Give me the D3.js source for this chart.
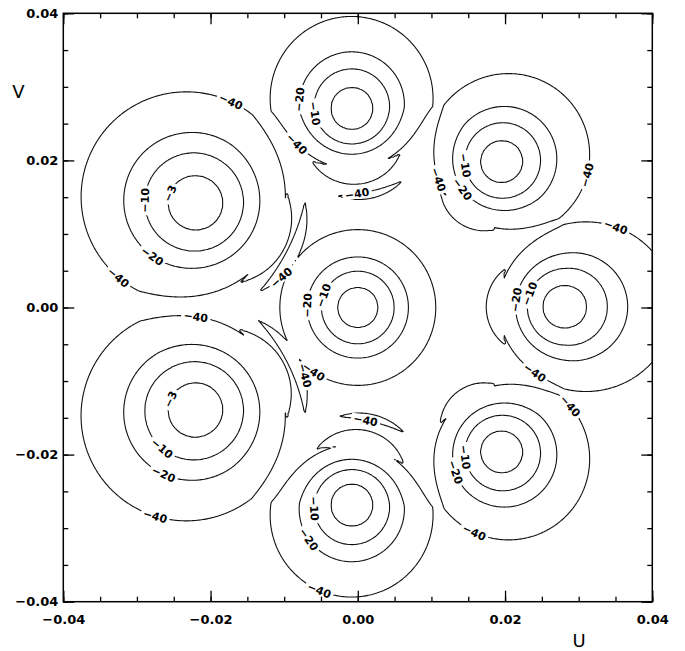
<!DOCTYPE html>
<html>
<head>
<meta charset="UTF-8">
<script src="https://cdn.jsdelivr.net/npm/d3@7"></script>
<style>
body { margin: 0; background: #fff; }
</style>
</head>
<body>
<script>
var Width = 685, Height = 651;
var plotL = 63.3, plotR = 652.3, plotT = 13.3, plotB = 601.7;

// beam centres (U, V), radius of the -3 contour, outward stretch and inward squeeze
var beamU   = [0.0000, -0.0008, 0.0195, 0.0280, 0.0195, -0.0008, -0.0220, -0.0220];
var beamV   = [0.0000,  0.0270, 0.0198, 0.0001, -0.0196, -0.0268, -0.0139, 0.0142];
var beamR3  = [0.00275, 0.00285, 0.00285, 0.00290, 0.00285, 0.00285, 0.00370, 0.00370];
var beamOut = [0, 0.033, 0.030, 0.065, 0.030, 0.033, 0.026, 0.026];
var beamIn  = [0, 0.0155, 0.009, 0.009, 0.009, 0.0155, 0.0059, 0.0059];

// level against radius (in units of the -3 radius)
var profileRho = [0, 1, 1.8, 2.5, 3.85, 6];
var profileDb  = [0, -3, -10, -20, -40, -70];

// coma side lobes on the inner side of the outer beams
var lobeBeam   = [1, 1, 5, 5, 3, 2, 4, 7, 7, 6, 6];
var lobeRho    = [3.15, 4.19, 3.15, 4.24, 3.28, 3.22, 3.22, 3.35, 4.00, 3.35, 4.00];
var lobeTurn   = [3, 11, -8, -12, 0, 10, -10, 6, 6, -4, -6];
var lobeSpread = [42, 23, 42, 23, 33, 30, 30, 33, 28, 33, 29];
var lobeWidth  = [0.45, 0.17, 0.45, 0.17, 0.36, 0.32, 0.32, 0.30, 0.22, 0.30, 0.22];

var levels = [-40, -20, -10, -3];

// contour labels: where they sit and which level they mark
var labelU = [-0.01709, -0.02850, -0.02524, -0.02795, -0.03271, -0.02211, -0.02524, -0.02646, -0.02646, -0.02768,
              -0.00785, -0.00554, -0.00826, -0.00011, 0.01456, 0.01416, 0.01063, 0.03127, 0.03453, 0.02122,
              0.02325, 0.02448, 0.02855, 0.01470, 0.01348, 0.01592, 0.00098, -0.00568, -0.00622, -0.00513,
              -0.00690, -0.00459, -0.01057, -0.00771, -0.00608];
var labelV = [0.02835, 0.01462, 0.01529, 0.00687, 0.00388, -0.00238, -0.01258, -0.01897, -0.02264, -0.02903,
              0.02821, 0.02645, 0.02237, 0.01570, 0.01924, 0.01598, 0.01720, 0.01787, 0.00945, 0.00102,
              0.00197, -0.00823, -0.01353, -0.02033, -0.02237, -0.03025, -0.01570, -0.02740, -0.03121, -0.03801,
              0.00034, 0.00170, 0.00428, -0.00945, -0.00891];
var labelLevel = [-40, -10, -3, -20, -40, -40, -3, -10, -20, -40,
                  -20, -10, -40, -40, -10, -20, -40, -40, -40, -20,
                  -10, -40, -40, -10, -20, -40, -40, -10, -20, -40,
                  -20, -10, -40, -40, -40];

var majorTicks = [-0.04, -0.02, 0, 0.02, 0.04];
var minorTicks = d3.range(-40, 41, 5).map(function(d){ return d / 1000; });

var svg = d3.select("body").append("svg")
    .attr("width", Width)
    .attr("height", Height);

var x = d3.scaleLinear().domain([-0.04, 0.04]).range([plotL, plotR]);
var y = d3.scaleLinear().domain([-0.04, 0.04]).range([plotB, plotT]);

var profile = d3.scaleLinear().domain(profileRho).range(profileDb).clamp(true);

function beamDb(i, u, v){
    var du = u - beamU[i], dv = v - beamV[i];
    var r = Math.sqrt(du * du + dv * dv);
    var rho = r / beamR3[i];
    var len = Math.sqrt(beamU[i] * beamU[i] + beamV[i] * beamV[i]);
    if(len === 0 || r === 0) return profile(rho);
    var c = (du * beamU[i] + dv * beamV[i]) / (r * len);
    var e;
    if(c >= 0){
        e = rho / (1 + beamOut[i] * rho * c);
    }else{
        e = rho * (1 - beamIn[i] * rho * rho * rho * c);
    }
    return profile(e);
}

function lobeDb(j, u, v){
    var i = lobeBeam[j];
    var du = u - beamU[i], dv = v - beamV[i];
    var rho = Math.sqrt(du * du + dv * dv) / beamR3[i];
    var inward = Math.atan2(-beamV[i], -beamU[i]) + lobeTurn[j] * Math.PI / 180;
    var a = Math.atan2(dv, du) - inward;
    a = Math.atan2(Math.sin(a), Math.cos(a));
    var t = a / (lobeSpread[j] * Math.PI / 180);
    if(Math.abs(t) >= 1) return -80;
    var w = lobeWidth[j] * (1 - t * t);
    var q = (rho - lobeRho[j]) / w;
    return -30 - 10 * q * q;
}

var n = 420;
var values = new Float64Array(n * n);
for(var j = 0; j < n; j++){
    var v = 0.04 - (j + 0.5) * 0.08 / n;
    for(var i = 0; i < n; i++){
        var u = -0.04 + (i + 0.5) * 0.08 / n;
        var best = -80;
        for(var b = 0; b < beamU.length; b++) best = Math.max(best, beamDb(b, u, v));
        for(var k = 0; k < lobeBeam.length; k++) best = Math.max(best, lobeDb(k, u, v));
        values[j * n + i] = best;
    }
}

var contours = d3.contours().size([n, n]).thresholds(levels)(values);
var gx = d3.scaleLinear().domain([0, n]).range([plotL, plotR]);
var gy = d3.scaleLinear().domain([0, n]).range([plotT, plotB]);
var path = d3.geoPath(d3.geoTransform({
    point: function(px, py){ this.stream.point(gx(px), gy(py)); }
}));

var defs = svg.append("defs");
defs.append("clipPath").attr("id", "plot")
    .append("rect").attr("x", plotL).attr("y", plotT)
    .attr("width", plotR - plotL).attr("height", plotB - plotT);
var mask = defs.append("mask").attr("id", "gaps")
    .attr("maskUnits", "userSpaceOnUse")
    .attr("x", 0).attr("y", 0).attr("width", Width).attr("height", Height);
mask.append("rect").attr("width", Width).attr("height", Height).attr("fill", "#fff");

svg.append("g")
    .attr("clip-path", "url(#plot)")
    .append("g")
    .attr("mask", "url(#gaps)")
    .selectAll("path")
    .data(contours)
    .enter()
    .append("path")
    .attr("d", path)
    .attr("fill", "none")
    .attr("stroke", "#111")
    .attr("stroke-width", 1.1)
    .attr("stroke-linejoin", "round");

// labels: snap to the nearest point of the level's contour, turn along it
function snap(level, px, py){
    var c = contours.filter(function(d){ return d.value === level; })[0];
    var bestD = Infinity, ring = null, idx = 0;
    c.coordinates.forEach(function(poly){
        poly.forEach(function(r){
            r.forEach(function(p, k){
                var dx = gx(p[0]) - px, dy = gy(p[1]) - py;
                var d = dx * dx + dy * dy;
                if(d < bestD){ bestD = d; ring = r; idx = k; }
            });
        });
    });
    var m = ring.length - 1;
    var a = ring[(idx - 2 + m) % m], b = ring[(idx + 2) % m];
    var ang = Math.atan2(gy(b[1]) - gy(a[1]), gx(b[0]) - gx(a[0])) * 180 / Math.PI;
    if(ang > 90) ang -= 180;
    if(ang <= -90) ang += 180;
    return {x: gx(ring[idx][0]), y: gy(ring[idx][1]), angle: ang};
}

var labelG = svg.append("g");
labelLevel.forEach(function(level, i){
    var s = snap(level, x(labelU[i]), y(labelV[i]));
    var t = labelG.append("text")
        .attr("transform", "translate(" + s.x + "," + s.y + ") rotate(" + s.angle + ")")
        .attr("text-anchor", "middle")
        .attr("dy", "0.36em")
        .style("font-family", "DejaVu Sans")
        .style("font-weight", "bold")
        .style("font-size", "11px")
        .text(d3.format("d")(level));
    var w = t.node().getComputedTextLength() + 5;
    mask.append("rect")
        .attr("transform", "translate(" + s.x + "," + s.y + ") rotate(" + s.angle + ")")
        .attr("x", -w / 2).attr("y", -5)
        .attr("width", w).attr("height", 10)
        .attr("fill", "#000");
});

// axes, ticks inward on all four sides
function ticks(g, axis){
    g.call(axis);
    g.select(".domain").remove();
    g.selectAll("line").attr("stroke", "#000").attr("stroke-width", 1.3);
    g.selectAll("text")
        .style("font-family", "DejaVu Sans")
        .style("font-weight", "bold")
        .style("font-size", "13px")
        .attr("fill", "#000");
}
var fmt = d3.format(".2f");
svg.append("g").attr("transform", "translate(0," + plotB + ")")
    .call(ticks, d3.axisBottom(x).tickValues(majorTicks).tickSize(-11).tickPadding(13).tickFormat(fmt));
svg.append("g").attr("transform", "translate(0," + plotB + ")")
    .call(ticks, d3.axisBottom(x).tickValues(minorTicks).tickSize(-5).tickFormat(""));
svg.append("g").attr("transform", "translate(0," + plotT + ")")
    .call(ticks, d3.axisTop(x).tickValues(majorTicks).tickSize(-11).tickFormat(""));
svg.append("g").attr("transform", "translate(0," + plotT + ")")
    .call(ticks, d3.axisTop(x).tickValues(minorTicks).tickSize(-5).tickFormat(""));
svg.append("g").attr("transform", "translate(" + plotL + ",0)")
    .call(ticks, d3.axisLeft(y).tickValues(majorTicks).tickSize(-11).tickPadding(5).tickFormat(fmt));
svg.append("g").attr("transform", "translate(" + plotL + ",0)")
    .call(ticks, d3.axisLeft(y).tickValues(minorTicks).tickSize(-5).tickFormat(""));
svg.append("g").attr("transform", "translate(" + plotR + ",0)")
    .call(ticks, d3.axisRight(y).tickValues(majorTicks).tickSize(-11).tickFormat(""));
svg.append("g").attr("transform", "translate(" + plotR + ",0)")
    .call(ticks, d3.axisRight(y).tickValues(minorTicks).tickSize(-5).tickFormat(""));

svg.append("rect")
    .attr("x", plotL).attr("y", plotT)
    .attr("width", plotR - plotL).attr("height", plotB - plotT)
    .attr("fill", "none").attr("stroke", "#000").attr("stroke-width", 1.5);

svg.append("text").attr("x", 18.5).attr("y", 98)
    .attr("text-anchor", "middle")
    .style("font-family", "DejaVu Sans").style("font-size", "18px")
    .text("V");
svg.append("text").attr("x", 579).attr("y", 647)
    .attr("text-anchor", "middle")
    .style("font-family", "DejaVu Sans").style("font-size", "18px")
    .text("U");
</script>
</body>
</html>
